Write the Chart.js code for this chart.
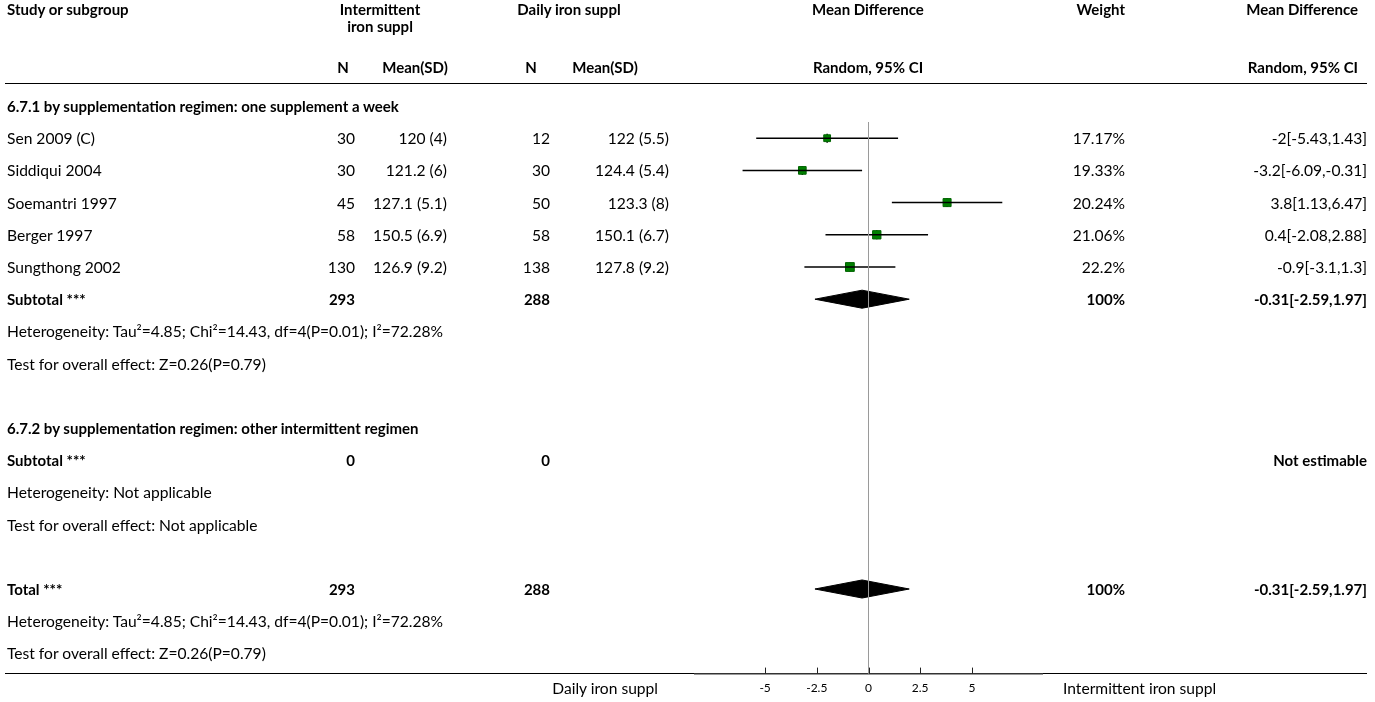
<!DOCTYPE html>
<html>
<head>
<meta charset="utf-8">
<script src="https://cdn.jsdelivr.net/npm/chart.js@4.4.1/dist/chart.umd.min.js"></script>
<style>
  html, body { margin: 0; padding: 0; background: #fff; }
  #page { position: relative; width: 1375px; height: 702px; overflow: hidden;
          font-family: Lato, "Noto Sans", sans-serif; font-size: 15.6px; color: #000; }
  .t { position: absolute; white-space: nowrap; line-height: 20px; height: 20px; }
  .b { font-weight: bold; font-size: 15px; }
  .rule { position: absolute; height: 0; border-top: 1.5px solid #000; }
  #chart { position: absolute; left: 0; top: 0; }
</style>
</head>
<body>
<div id="page"><canvas id="chart" width="1375" height="702"></canvas></div>
<script>
"use strict";

// --- data ---
const studies = ["Sen 2009 (C)", "Siddiqui 2004", "Soemantri 1997", "Berger 1997", "Sungthong 2002"];
const intN = [30, 30, 45, 58, 130];
const intMeanSD = ["120 (4)", "121.2 (6)", "127.1 (5.1)", "150.5 (6.9)", "126.9 (9.2)"];
const dailyN = [12, 30, 50, 58, 138];
const dailyMeanSD = ["122 (5.5)", "124.4 (5.4)", "123.3 (8)", "150.1 (6.7)", "127.8 (9.2)"];
const weights = [17.17, 19.33, 20.24, 21.06, 22.2];
const meanDiff = [-2, -3.2, 3.8, 0.4, -0.9];
const ciLow = [-5.43, -6.09, 1.13, -2.08, -3.1];
const ciHigh = [1.43, -0.31, 6.47, 2.88, 1.3];
const pooledMD = [-0.31, -2.59, 1.97];   // estimate, low, high
const totalN = [293, 288];
const xTicks = [-5, -2.5, 0, 2.5, 5];

const hetText = "Heterogeneity: Tau²=4.85; Chi²=14.43, df=4(P=0.01); I²=72.28%";
const testText = "Test for overall effect: Z=0.26(P=0.79)";

// row indices on the y scale (0 = first subgroup heading)
const studyRows = [1, 2, 3, 4, 5];
const subtotalRow = 6, totalRow = 15;
const ROW0 = 106, PITCH = 32.2;   // pixel of row 0 and pixels per row

const page = document.getElementById("page");

function addText(txt, x, y, align, bold) {
  const d = document.createElement("div");
  d.className = "t" + (bold ? " b" : "");
  d.textContent = txt;
  d.style.top = (y - 10) + "px";
  if (align === "right") d.style.right = (1375 - x) + "px";
  else if (align === "center") { d.style.left = (x - 200) + "px"; d.style.width = "400px"; d.style.textAlign = "center"; }
  else d.style.left = x + "px";
  page.appendChild(d);
}

function addRule(x1, x2, y) {
  const d = document.createElement("div");
  d.className = "rule";
  d.style.left = x1 + "px";
  d.style.width = (x2 - x1) + "px";
  d.style.top = y + "px";
  page.insertBefore(d, page.firstChild);
}

// tick marks pointing up from the axis
const tickMarks = {
  id: "tickMarks",
  afterDraw(chart) {
    const sx = chart.scales.x, ctx = chart.ctx, y0 = chart.chartArea.bottom;
    ctx.save();
    ctx.strokeStyle = "#222";
    ctx.lineWidth = 1;
    sx.ticks.forEach((t) => {
      const px = Math.round(sx.getPixelForValue(t.value)) + 0.5;
      ctx.beginPath(); ctx.moveTo(px, y0); ctx.lineTo(px, y0 - 6); ctx.stroke();
    });
    ctx.restore();
  },
};

const line = (pts, color, width) => ({
  data: pts, showLine: true, borderColor: color, borderWidth: width,
  pointRadius: 0, fill: false,
});

const diamond = (row) => ({
  data: [
    { x: pooledMD[1], y: row }, { x: pooledMD[0], y: row - 0.28 },
    { x: pooledMD[2], y: row }, { x: pooledMD[0], y: row + 0.28 },
    { x: pooledMD[1], y: row },
  ],
  showLine: true, borderColor: "#000", borderWidth: 1, backgroundColor: "#000",
  fill: "shape", pointRadius: 0, tension: 0,
});

const zeroLine = line([{ x: 0, y: 0.5 }, { x: 0, y: 20 }], "#9a9a9a", 1);

const datasets = [
  zeroLine,
  ...studyRows.map((r, i) => line([{ x: ciLow[i], y: r }, { x: ciHigh[i], y: r }], "#000", 1.5)),
  {
    data: studyRows.map((r, i) => ({ x: meanDiff[i], y: r })),
    pointStyle: "rect",
    pointRadius: weights.map((w) => w * 0.28),
    backgroundColor: "#008000", borderColor: "#006400", borderWidth: 1,
  },
  {
    data: studyRows.map((r, i) => ({ x: meanDiff[i], y: r })),
    pointStyle: "line", rotation: 90, pointRadius: 4.5,
    borderColor: "#000", borderWidth: 1.5,
  },
  diamond(subtotalRow),
  diamond(totalRow),
];

const chart = new Chart(document.getElementById("chart"), {
  type: "scatter",
  data: { datasets },
  options: {
    responsive: false,
    animation: false,
    layout: { padding: { left: 695, right: 333, top: 0, bottom: 0 } },
    plugins: { legend: { display: false }, tooltip: { enabled: false } },
    scales: {
      x: {
        type: "linear", min: -8.39, max: 8.39,
        afterBuildTicks: (s) => { s.ticks = xTicks.map((v) => ({ value: v })); },
        ticks: { autoSkip: false, maxRotation: 0, padding: 7, color: "#000",
                 font: { family: "Lato", size: 12 }, callback: (v) => String(v) },
        grid: { display: false, drawTicks: false },
        border: { display: true, color: "#333", width: 1.5 },
      },
      y: { type: "linear", display: false, reverse: true, min: -3.34, max: 17.69 },
    },
  },
  plugins: [tickMarks],
});

// pin the row scale so row r sits at ROW0 + r * PITCH inside the real chart area
const ca = chart.chartArea;
chart.options.scales.y.min = (ca.top - ROW0) / PITCH;
chart.options.scales.y.max = (ca.bottom - ROW0) / PITCH;
zeroLine.data[1].y = chart.options.scales.y.max;
chart.update();

// --- table text, placed on the chart's own row scale ---
const Y = (r) => chart.scales.y.getPixelForValue(r);
const col = { study: 7, intN: 355, intMean: 447, dayN: 550, dayMean: 669, weight: 1125, md: 1367 };

addText("Study or subgroup", col.study, 9, "left", true);
addText("Intermittent", 380, 9, "center", true);
addText("iron suppl", 380, 26, "center", true);
addText("Daily iron suppl", 569, 9, "center", true);
addText("Mean Difference", 868, 9, "center", true);
addText("Weight", col.weight, 9, "right", true);
addText("Mean Difference", 1358, 9, "right", true);
addText("N", 343, 67, "center", true);
addText("Mean(SD)", 415, 67, "center", true);
addText("N", 531, 67, "center", true);
addText("Mean(SD)", 605, 67, "center", true);
addText("Random, 95% CI", 868, 67, "center", true);
addText("Random, 95% CI", 1358, 67, "right", true);
addRule(5, 1367, 83);

addText("6.7.1 by supplementation regimen: one supplement a week", col.study, Y(0), "left", true);
studyRows.forEach((r, i) => {
  const y = Y(r);
  addText(studies[i], col.study, y, "left");
  addText(String(intN[i]), col.intN, y, "right");
  addText(intMeanSD[i], col.intMean, y, "right");
  addText(String(dailyN[i]), col.dayN, y, "right");
  addText(dailyMeanSD[i], col.dayMean, y, "right");
  addText(weights[i] + "%", col.weight, y, "right");
  addText(`${meanDiff[i]}[${ciLow[i]},${ciHigh[i]}]`, col.md, y, "right");
});
const pooledText = `${pooledMD[0]}[${pooledMD[1]},${pooledMD[2]}]`;
[subtotalRow, totalRow].forEach((r) => {
  addText(r === totalRow ? "Total ***" : "Subtotal ***", col.study, Y(r), "left", true);
  addText(String(totalN[0]), col.intN, Y(r), "right", true);
  addText(String(totalN[1]), col.dayN, Y(r), "right", true);
  addText("100%", col.weight, Y(r), "right", true);
  addText(pooledText, col.md, Y(r), "right", true);
  addText(hetText, col.study, Y(r + 1), "left");
  addText(testText, col.study, Y(r + 2), "left");
});

addText("6.7.2 by supplementation regimen: other intermittent regimen", col.study, Y(10), "left", true);
addText("Subtotal ***", col.study, Y(11), "left", true);
addText("0", col.intN, Y(11), "right", true);
addText("0", col.dayN, Y(11), "right", true);
addText("Not estimable", col.md, Y(11), "right", true);
addText("Heterogeneity: Not applicable", col.study, Y(12), "left");
addText("Test for overall effect: Not applicable", col.study, Y(13), "left");

// bottom rule sits on the axis line
addRule(5, 1367, chart.chartArea.bottom - 0.75);
addText("Daily iron suppl", 658, 688, "right");
addText("Intermittent iron suppl", 1063, 688, "left");
</script>
</body>
</html>
